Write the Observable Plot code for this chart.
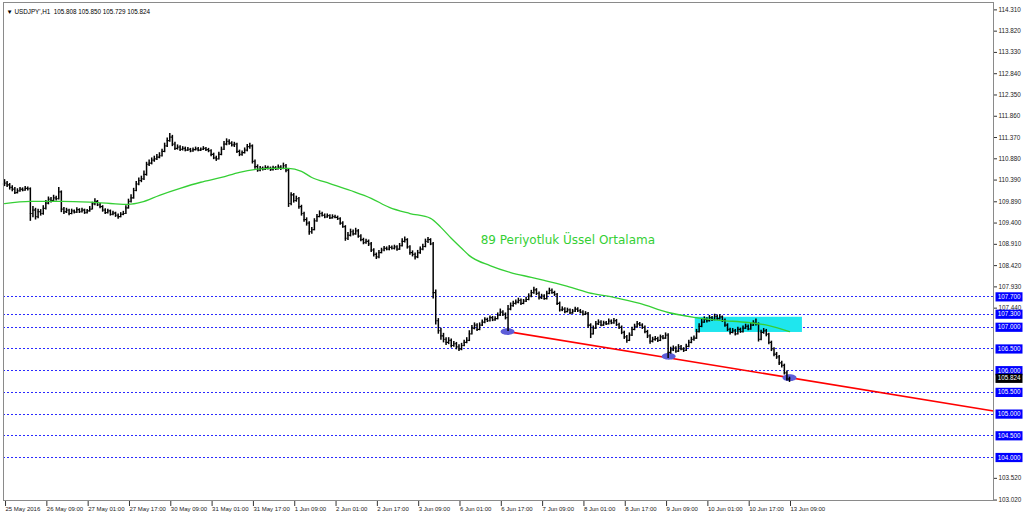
<!DOCTYPE html>
<html>
<head>
<meta charset="utf-8">
<script src="https://cdn.jsdelivr.net/npm/d3@7"></script>
<script src="https://cdn.jsdelivr.net/npm/@observablehq/plot@0.6"></script>
<style>
  html, body { margin: 0; padding: 0; background: #ffffff; }
  #chart svg { display: block; }
</style>
</head>
<body>
<div id="chart"></div>
<script>
// ---- Data ----
const symbolName = "USDJPY'";
const timeframe = "H1";
const lastQuote = [105.808, 105.850, 105.729, 105.824]; // O H L C of last bar
const firstOpen = 110.30;

const closes = [
110.32,110.28,110.22,110.18,110.10,110.14,110.18,110.16,110.20,110.19,
109.62,109.70,109.55,109.66,109.62,109.74,109.86,109.95,109.92,109.98,
109.96,110.12,109.72,109.66,109.70,109.62,109.68,109.65,109.71,109.66,
109.70,109.64,109.68,109.72,109.84,109.90,109.82,109.78,109.70,109.64,
109.68,109.60,109.63,109.58,109.55,109.60,109.62,109.75,109.90,109.98,
110.15,110.30,110.38,110.42,110.52,110.75,110.78,110.85,110.88,110.92,
110.95,111.05,111.18,111.30,111.38,111.22,111.12,111.15,111.10,111.12,
111.08,111.10,111.06,111.09,111.11,111.08,111.10,111.12,111.09,111.07,
110.98,110.90,110.88,110.98,111.10,111.22,111.28,111.24,111.20,111.22,
111.05,110.98,111.02,111.08,111.16,111.18,110.82,110.70,110.62,110.66,
110.64,110.68,110.66,110.63,110.67,110.65,110.69,110.66,110.72,110.62,
109.85,110.05,109.92,109.96,109.78,109.62,109.48,109.40,109.20,109.25,
109.45,109.55,109.62,109.58,109.54,109.57,109.52,109.55,109.53,109.50,
109.40,109.32,109.05,109.12,109.20,109.15,109.22,109.10,109.02,108.95,
108.98,108.92,108.78,108.68,108.62,108.72,108.78,108.82,108.80,108.84,
108.82,108.85,108.80,108.88,108.98,109.02,108.85,108.72,108.68,108.62,
108.72,108.80,108.86,108.98,109.02,108.92,107.80,107.15,106.92,106.80,
106.72,106.65,106.70,106.58,106.62,106.55,106.50,106.58,106.65,106.70,
106.85,106.98,107.05,106.95,107.05,107.12,107.18,107.15,107.22,107.17,
107.20,107.28,107.35,107.30,107.22,107.42,107.50,107.55,107.58,107.62,
107.55,107.60,107.64,107.72,107.80,107.86,107.78,107.68,107.72,107.66,
107.78,107.85,107.80,107.76,107.55,107.40,107.42,107.36,107.40,107.33,
107.37,107.42,107.38,107.35,107.30,107.32,107.05,106.85,106.98,107.08,
107.12,107.05,107.10,107.08,107.14,107.10,107.15,107.06,107.00,106.88,
106.78,106.70,106.82,106.95,107.02,107.08,107.05,107.00,106.90,106.80,
106.68,106.72,106.74,106.70,106.78,106.75,106.82,106.42,106.48,106.52,
106.45,106.55,106.50,106.47,106.56,106.65,106.72,106.75,106.90,107.02,
107.12,107.18,107.15,107.22,107.18,107.25,107.20,107.24,107.16,107.05,
106.95,106.88,106.92,106.85,106.95,106.90,106.98,107.02,106.96,107.05,
107.10,107.08,106.72,106.88,106.92,106.84,106.65,106.50,106.38,106.32,
106.18,106.12,105.95,105.81,105.824
];

const highs = [
110.40,110.36,110.31,110.26,110.22,110.19,110.22,110.21,110.24,110.23,
110.21,109.78,109.74,109.72,109.71,109.80,109.92,110.00,109.99,110.04,
110.02,110.22,110.14,109.76,109.74,109.72,109.72,109.70,109.75,109.73,
109.74,109.72,109.71,109.78,109.88,109.96,109.92,109.85,109.80,109.73,
109.72,109.70,109.67,109.65,109.61,109.64,109.67,109.80,109.95,110.05,
110.20,110.36,110.44,110.48,110.60,110.80,110.85,110.90,110.94,110.98,
111.02,111.10,111.24,111.36,111.46,111.42,111.26,111.20,111.18,111.16,
111.15,111.14,111.12,111.13,111.15,111.14,111.13,111.16,111.14,111.12,
111.09,111.01,110.94,111.03,111.15,111.28,111.34,111.32,111.27,111.26,
111.24,111.08,111.06,111.13,111.21,111.24,111.20,110.85,110.74,110.70,
110.69,110.72,110.71,110.69,110.71,110.70,110.74,110.72,110.78,110.75,
110.65,110.10,110.08,110.02,109.99,109.81,109.65,109.52,109.43,109.30,
109.50,109.60,109.68,109.65,109.61,109.61,109.59,109.59,109.58,109.56,
109.52,109.43,109.34,109.18,109.26,109.24,109.28,109.25,109.13,109.05,
109.03,109.01,108.95,108.81,108.71,108.77,108.82,108.86,108.85,108.88,
108.87,108.89,108.88,108.93,109.04,109.08,109.04,108.88,108.76,108.71,
108.77,108.85,108.91,109.03,109.07,109.04,108.95,107.86,107.20,106.98,
106.86,106.76,106.76,106.73,106.67,106.65,106.60,106.63,106.70,106.76,
106.92,107.04,107.10,107.08,107.10,107.17,107.22,107.21,107.26,107.25,
107.24,107.33,107.42,107.38,107.33,107.50,107.56,107.60,107.63,107.67,
107.65,107.64,107.69,107.77,107.85,107.92,107.89,107.81,107.76,107.75,
107.83,107.90,107.88,107.83,107.78,107.58,107.47,107.45,107.44,107.42,
107.41,107.46,107.45,107.41,107.38,107.36,107.34,107.08,107.03,107.13,
107.17,107.15,107.14,107.13,107.19,107.17,107.20,107.18,107.09,107.03,
106.91,106.81,106.87,107.00,107.07,107.13,107.11,107.08,107.03,106.93,
106.83,106.77,106.79,106.77,106.82,106.81,106.87,106.85,106.54,106.57,
106.55,106.60,106.58,106.53,106.61,106.70,106.77,106.80,106.95,107.08,
107.18,107.24,107.22,107.27,107.25,107.30,107.28,107.29,107.26,107.19,
107.08,106.98,106.97,106.95,107.00,106.98,107.03,107.07,107.05,107.10,
107.15,107.19,107.10,106.93,106.97,106.95,106.86,106.68,106.53,106.42,
106.35,106.22,106.15,105.99,105.850
];

const lows = [
110.24,110.22,110.16,110.12,110.06,110.07,110.11,110.12,110.13,110.14,
109.44,109.52,109.47,109.50,109.56,109.58,109.70,109.82,109.86,109.89,
109.91,109.93,109.64,109.60,109.62,109.57,109.59,109.61,109.62,109.62,
109.63,109.60,109.61,109.65,109.70,109.80,109.78,109.73,109.65,109.60,
109.61,109.56,109.57,109.53,109.49,109.52,109.57,109.60,109.72,109.86,
109.95,110.12,110.26,110.33,110.38,110.48,110.70,110.74,110.80,110.84,
110.88,110.92,111.02,111.14,111.26,111.16,111.07,111.08,111.05,111.06,
111.04,111.05,111.02,111.03,111.06,111.04,111.05,111.07,111.05,111.02,
110.93,110.86,110.82,110.85,110.95,111.07,111.18,111.19,111.15,111.14,
111.00,110.93,110.94,110.99,111.04,111.10,110.76,110.64,110.57,110.58,
110.60,110.61,110.62,110.59,110.60,110.61,110.62,110.61,110.63,110.56,
109.76,109.80,109.86,109.88,109.72,109.56,109.42,109.33,109.12,109.14,
109.22,109.42,109.52,109.54,109.50,109.51,109.48,109.49,109.50,109.46,
109.35,109.28,108.98,109.00,109.08,109.10,109.12,109.05,108.97,108.90,
108.91,108.86,108.72,108.62,108.56,108.58,108.69,108.74,108.76,108.76,
108.78,108.78,108.75,108.77,108.85,108.94,108.80,108.66,108.62,108.55,
108.58,108.68,108.76,108.83,108.93,108.88,107.65,107.05,106.84,106.70,
106.64,106.58,106.60,106.52,106.54,106.48,106.44,106.46,106.55,106.62,
106.67,106.82,106.94,106.90,106.92,107.02,107.08,107.11,107.12,107.13,
107.14,107.17,107.25,107.25,107.17,106.90,107.38,107.46,107.51,107.54,
107.50,107.52,107.57,107.61,107.68,107.76,107.73,107.63,107.64,107.62,
107.63,107.75,107.76,107.71,107.50,107.35,107.36,107.31,107.33,107.29,
107.30,107.34,107.34,107.31,107.26,107.27,106.98,106.74,106.82,106.95,
107.04,107.01,107.02,107.04,107.05,107.06,107.07,107.02,106.95,106.83,
106.72,106.63,106.67,106.79,106.92,106.98,107.01,106.95,106.85,106.74,
106.61,106.64,106.68,106.65,106.67,106.71,106.72,106.28,106.38,106.44,
106.40,106.42,106.46,106.42,106.44,106.53,106.62,106.68,106.72,106.87,
106.99,107.09,107.10,107.12,107.13,107.15,107.16,107.17,107.11,107.00,
106.90,106.82,106.85,106.80,106.82,106.86,106.87,106.95,106.92,106.93,
107.02,107.03,106.66,106.69,106.84,106.78,106.60,106.44,106.32,106.26,
106.12,106.06,105.90,105.76,105.729
];

// 89-period EMA: bar index / value
const emaIdx = [0,10,22,33,41,48,53,60,68,76,84,91,98,103,110,115,119,126,134,142,149,157,165,169,173,177,180,188,196,204,209,217,226,236,246,257,267,277,288,296,304];
const emaVal = [109.85,109.90,109.90,109.88,109.85,109.83,109.88,110.04,110.20,110.34,110.45,110.57,110.64,110.66,110.66,110.59,110.45,110.31,110.15,109.97,109.76,109.62,109.51,109.30,109.05,108.82,108.65,108.42,108.26,108.15,108.08,107.96,107.80,107.69,107.55,107.34,107.23,107.16,107.11,107.04,106.90];

// Horizontal support/resistance levels
const levels = [107.70, 107.30, 107.00, 106.50, 106.00, 105.50, 105.00, 104.50, 104.00];

// Price-axis tick labels (visible ones)
const yTicks = [114.310,113.820,113.330,112.840,112.350,111.860,111.370,110.880,110.390,109.890,109.400,108.910,108.420,107.930,107.440,103.520,103.020];

// Time-axis tick labels (every 16 hourly bars)
const xTickIdx = [0,16,32,48,64,80,96,112,128,144,160,176,192,208,224,240,256,272,288,304];
const xTickLabels = ["25 May 2016","26 May 09:00","27 May 01:00","27 May 17:00","30 May 09:00","31 May 01:00","31 May 17:00","1 Jun 09:00","2 Jun 01:00","2 Jun 17:00","3 Jun 09:00","6 Jun 01:00","6 Jun 17:00","7 Jun 09:00","8 Jun 01:00","8 Jun 17:00","9 Jun 09:00","10 Jun 01:00","10 Jun 17:00","13 Jun 09:00"];

// Drawn objects
const trendIdx = [194.8, 304];        // red trendline anchors (ray to the right)
const trendVal = [106.90, 105.84];
const pivotIdx = [194.8, 257.2, 304]; // purple ellipses
const pivotVal = [106.90, 106.33, 105.84];
const boxIdx = [267.5, 309];          // cyan rectangle
const boxVal = [106.88, 107.23];
const noteText = "89 Periyotluk Üssel Ortalama";
const noteIdx = 184.4, noteVal = 109.00;

// ---- Build tables ----
const bars = closes.map((c, i) => ({
  i, open: i === 0 ? firstOpen : (i === closes.length - 1 ? lastQuote[0] : closes[i - 1]),
  high: Math.max(highs[i], c), low: Math.min(lows[i], c), close: c
}));
const ema = emaIdx.map((i, k) => ({i, v: emaVal[k]}));
const xMax = 383;
const slope = (trendVal[1] - trendVal[0]) / (trendIdx[1] - trendIdx[0]);
const trend = [{i: trendIdx[0], v: trendVal[0]}, {i: xMax, v: trendVal[0] + slope * (xMax - trendIdx[0])}];
const pivots = pivotIdx.map((i, k) => ({i, v: pivotVal[k]}));

const ellipse = {draw(ctx) {
  const rx = 7, ry = 3.4, k = 0.5523;
  ctx.moveTo(rx, 0);
  ctx.bezierCurveTo(rx, ry * k, rx * k, ry, 0, ry);
  ctx.bezierCurveTo(-rx * k, ry, -rx, ry * k, -rx, 0);
  ctx.bezierCurveTo(-rx, -ry * k, -rx * k, -ry, 0, -ry);
  ctx.bezierCurveTo(rx * k, -ry, rx, -ry * k, rx, 0);
  ctx.closePath();
}};
const tag = {draw(ctx) { ctx.rect(-13.5, -4.6, 27, 9.2); }};

const font = "Liberation Sans, Arial, sans-serif";

const chart = Plot.plot({
  width: 1024,
  height: 516,
  marginLeft: 3,
  marginRight: 31,
  marginTop: 2,
  marginBottom: 16,
  style: {fontFamily: font, background: "#ffffff", color: "#000"},
  x: {domain: [-0.4, xMax]},
  y: {domain: [103.01, 114.48]},
  marks: [
    Plot.ruleY(levels, {stroke: "#2a2aff", strokeDasharray: "2,2", strokeWidth: 1, shapeRendering: "crispEdges"}),
    Plot.rect([0], {x1: () => boxIdx[0], x2: () => boxIdx[1], y1: () => boxVal[0], y2: () => boxVal[1], fill: "#1fe6ee"}),
    Plot.line(trend, {x: "i", y: "v", stroke: "#ff0000", strokeWidth: 1.6}),
    Plot.dot(pivots, {x: "i", y: "v", symbol: ellipse, r: 5, fill: "#5d5dd8", stroke: "none"}),
    Plot.ruleX(bars, {x: "i", y1: "low", y2: "high", stroke: "#000", strokeWidth: 1.5}),
    Plot.ruleY(bars, {y: "open", x1: d => d.i - 0.45, x2: "i", stroke: "#000", strokeWidth: 1.2}),
    Plot.ruleY(bars, {y: "close", x1: "i", x2: d => d.i + 0.45, stroke: "#000", strokeWidth: 1.2}),
    Plot.line(ema, {x: "i", y: "v", stroke: "#35cf35", strokeWidth: 1.3, curve: "monotone-x"}),
    Plot.text([noteText], {x: () => noteIdx, y: () => noteVal, text: d => d, textAnchor: "start", fill: "#35cf35", fontSize: 12, fontFamily: "DejaVu Sans"}),
    Plot.frame({stroke: "#8a8a8a"}),
    Plot.axisY(yTicks, {anchor: "right", label: null, tickSize: 3, tickPadding: 2, fontSize: 6.3, tickFormat: d => d.toFixed(3), stroke: "#333", fill: "#222"}),
    Plot.axisX(xTickIdx, {anchor: "bottom", label: null, tickSize: 5, tickPadding: 0, fontSize: 6, textAnchor: "start", dx: 1, dy: 1,
      tickFormat: d => xTickLabels[xTickIdx.indexOf(d)], stroke: "#333", fill: "#222"}),
    Plot.dot(levels, {y: d => d, frameAnchor: "right", dx: 15.5, symbol: tag, r: 5, fill: "#0000ff", stroke: "none"}),
    Plot.text(levels, {y: d => d, frameAnchor: "right", dx: 15.5, textAnchor: "middle", text: d => d.toFixed(3), fill: "#ffffff", fontSize: 6.3}),
    Plot.dot([lastQuote[3]], {y: d => d, frameAnchor: "right", dx: 15.5, symbol: tag, r: 5, fill: "#000000", stroke: "none"}),
    Plot.text([lastQuote[3]], {y: d => d, frameAnchor: "right", dx: 15.5, textAnchor: "middle", text: d => d.toFixed(3), fill: "#ffffff", fontSize: 6.3}),
    Plot.text([lastQuote], {frameAnchor: "top-left", dx: 3, dy: 7, textAnchor: "start", fontSize: 6.3, fill: "#000",
      text: q => "\u25BC " + symbolName + "," + timeframe + "  " + q.map(v => v.toFixed(3)).join(" ")})
  ]
});
document.getElementById("chart").appendChild(chart);
</script>
</body>
</html>
